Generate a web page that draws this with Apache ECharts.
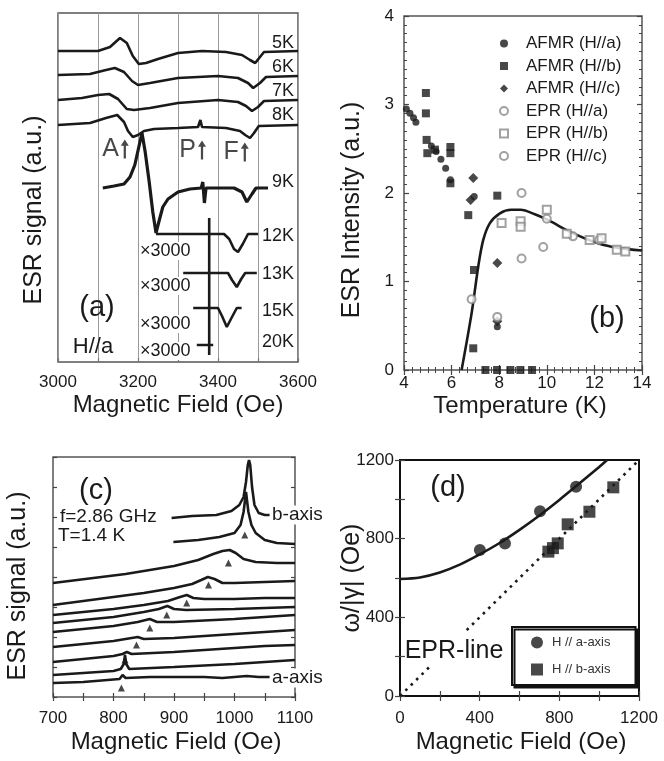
<!DOCTYPE html>
<html><head><meta charset="utf-8">
<script src="https://cdn.jsdelivr.net/npm/echarts@6/dist/echarts.min.js"></script>
<style>html,body{margin:0;padding:0;background:#fff}#c{width:664px;height:761px}</style>
</head><body><div id="c"></div>
<script>
const FONT = '"Liberation Sans", Arial, Helvetica, sans-serif';
const INK = '#1a1a1a';

// ---------- Panel (a): ESR traces, [field (Oe), signal (a.u., offset)] ----------
const a5K = [[3000,311],[3100,311],[3130,315],[3155,324],[3172,319],[3187,306],[3202,298],[3220,299],[3250,303],[3300,309],[3360,311],[3420,310],[3460,307],[3480,302],[3493,299],[3505,305],[3515,310],[3600,311]];
const a6K = [[3000,287],[3080,288],[3120,292],[3142,294],[3165,290],[3185,281],[3200,277],[3230,279],[3300,284],[3400,286],[3450,284],[3475,279],[3488,274],[3505,279],[3520,285],[3600,286]];
const a7K = [[3000,262],[3060,264],[3100,267],[3128,268],[3150,263],[3172,253],[3190,252],[3230,254],[3300,259],[3400,262],[3450,260],[3470,256],[3485,251],[3500,255],[3515,261],[3600,262]];
const a8K = [[3000,237],[3080,239],[3120,244],[3148,247],[3165,240],[3175,231],[3187,225],[3200,227],[3215,231],[3240,233],[3300,234],[3350,235],[3356,242],[3360,235],[3420,234],[3455,231],[3468,227],[3480,224],[3490,229],[3502,236],[3600,237]];
const a9K = [[3112,174],[3140,176],[3165,178],[3180,185],[3192,197],[3202,215],[3210,229],[3218,210],[3228,180],[3237,150],[3245,129],[3252,140],[3262,155],[3275,163],[3300,170],[3330,173],[3358,174],[3362,180],[3366,159],[3370,174],[3440,174],[3460,170],[3472,160],[3485,168],[3495,174],[3525,174]];
const a12K = [[3245,128],[3415,128],[3428,123],[3440,113],[3450,110],[3462,118],[3475,128],[3500,128]];
const a13K = [[3313,89],[3425,89],[3435,82],[3447,75],[3458,83],[3468,89],[3497,89]];
const a15K = [[3338,54],[3400,54],[3410,46],[3422,35],[3435,45],[3447,54],[3459,54]];
const a20K = [[3347,17],[3388,17]];
const aSharpP = [[3378,144],[3378,7]];
const aTempLabels = ['5K','6K','7K','8K','9K','12K','13K','15K','20K'];
const aTempLabelY = [43,67,91,115,182,236,274,311,342];
const aArrowPos = [[3167,213],[3360,212],[3467,210]];
const aArrowNames = ['A','P','F'];
const aGainLabel = '×3000';
const aGainY = [251,286,324,351];

// ---------- Panel (b): intensity vs temperature, [T (K), I (a.u.)] ----------
const bAfmrA = [[4.1,2.95],[4.25,2.9],[4.4,2.85],[4.5,2.8],[5.15,2.53],[5.35,2.47],[5.55,2.38],[5.75,2.28],[5.95,2.15],[6.95,1.96],[7.92,0.49]];
const bAfmrB = [[4.92,3.13],[4.92,2.9],[4.95,2.6],[4.98,2.45],[5.3,2.49],[5.95,2.52],[5.95,2.45],[5.95,2.11],[6.7,1.75],[6.94,1.13],[6.91,0.245],[7.92,1.97],[7.42,0],[7.91,0],[8.47,0],[8.89,0],[9.38,0]];
const bAfmrC = [[6.91,2.17],[6.8,1.92],[7.92,1.21],[7.92,0.55]];
const bEprA = [[8.94,2.0],[10.0,1.71],[11.1,1.51],[12.2,1.47],[6.84,0.8]];
const bEprB = [[8.1,1.66],[8.9,1.68],[8.9,1.62],[10.0,1.81],[10.84,1.54],[11.8,1.47],[12.3,1.49],[12.94,1.36],[13.3,1.34]];
const bEprC = [[7.92,0.6],[8.94,1.26],[9.85,1.39]];
const bFit = [[6.42,0],[6.84,0.64],[7.12,1.17],[7.33,1.47],[7.61,1.66],[8.03,1.77],[8.5,1.81],[8.9,1.81],[9.5,1.76],[10.08,1.69],[11.06,1.55],[12.18,1.43],[13,1.38],[14,1.35]];
const bNames = ['AFMR (H//a)','AFMR (H//b)','AFMR (H//c)','EPR (H//a)','EPR (H//b)','EPR (H//c)'];

// ---------- Panel (c): spectra at 1.4 K, [field (Oe), signal (a.u., offset)] ----------
const c1 = [[896,179],[930,181],[970,182],[995,186],[1008,192],[1015,200],[1019,215],[1022,232],[1024,237],[1026,232],[1029,210],[1033,192],[1040,184],[1050,182],[1058,182]];
const c2 = [[899,155],[940,157],[975,160],[1000,164],[1010,172],[1015,185],[1019,205],[1023,185],[1028,172],[1035,164],[1050,157],[1070,154],[1100,153]];
const c3 = [[700,114],[740,117],[780,120],[820,123],[860,127],[900,131],[940,137],[965,143],[980,146],[992,147],[1002,144],[1015,138],[1035,135],[1070,134],[1100,134]];
const c4 = [[700,92],[750,96],[800,100],[850,104],[900,109],[930,113],[945,117],[956,120],[967,118],[980,114],[1000,114],[1050,115],[1100,116]];
const c5 = [[700,82],[750,85],[800,88],[850,92],[890,96],[910,100],[921,102],[932,99],[950,98],[1000,98],[1050,99],[1100,99]];
const c6 = [[700,74],[750,77],[800,80],[850,85],[875,88],[889,91],[900,88],[920,87],[1000,88],[1050,89],[1100,90]];
const c7 = [[700,65],[750,68],[800,71],[840,75],[860,78],[872,75],[900,75],[1000,78],[1050,80],[1100,82]];
const c8 = [[700,50],[750,53],[800,56],[830,59],[840,60],[850,58],[900,59],[1000,63],[1050,65],[1100,67]];
const c9 = [[700,35],[750,38],[800,41],[815,43],[822,45],[830,43],[900,45],[1000,49],[1050,51],[1100,52]];
const c10 = [[700,22],[750,24],[800,26],[812,28],[817,33],[819,42],[821,33],[826,28],[900,30],[1000,33],[1050,35],[1100,37]];
const c11 = [[700,14],[750,15],[790,17],[810,18],[815,22],[820,19],[860,20],[900,20],[950,20],[980,19],[1000,20],[1020,21],[1040,20],[1058,20]];
const cMarkField = [1017,990,957,921,888,860,838,819,813];
const cMarkY = [162,134,112,94,82,69,52,37,9];

// ---------- Panel (d): resonance field, [H (Oe), omega/|gamma| (Oe)] ----------
const dFieldA = [401,527,703,884];
const dFreqA = [742,776,939,1064];
const dFieldB = [745,768,792,842,951,1071];
const dFreqB = [734,752,776,873,937,1061];
const dFit = [[0,595],[100,603],[200,628],[300,668],[400,720],[500,778],[600,845],[700,918],[800,997],[900,1080],[1000,1165],[1040,1200]];
const dEprLow = [[0,0],[150,150]];
const dEprHigh = [[335,335],[1200,1200]];
const dNames = ['H // a-axis','H // b-axis'];

// ---------- helpers ----------
const lbl = (size, extra) => Object.assign({fontSize: size, color: INK, fontFamily: FONT}, extra || {});
function txt(x, y, s, size, o) {
  o = o || {};
  return {type: 'text', x: x, y: y, rotation: o.rot || 0, z: 50,
    style: Object.assign({text: s, fontSize: size, fontFamily: FONT, fill: INK,
      align: o.align || 'center', verticalAlign: 'middle'}, o.style || {})};
}
const tickIn = (len, c) => ({show: true, inside: true, length: len, lineStyle: {color: c || '#444', width: 1.2}});
const noLine = {show: false};
const grids = [
  {left: 58, top: 13, width: 240, height: 349},
  {left: 404, top: 16, width: 238, height: 354},
  {left: 53, top: 457, width: 242, height: 240},
  {left: 400, top: 460, width: 239, height: 236}
].map((g, i) => Object.assign(g, {show: true, backgroundColor: 'transparent', borderColor: i === 3 ? '#111' : '#555', borderWidth: i === 3 ? 2 : 1.5, containLabel: false, outerBoundsMode: 'none'}));

const xAxes = [
  {gridIndex: 0, type: 'value', min: 3000, max: 3600, interval: 100, axisLine: noLine,
   axisTick: tickIn(4, '#777'), splitLine: {show: true, lineStyle: {color: '#9a9a9a', width: 1}},
   axisLabel: Object.assign(lbl(17), {margin: 12, formatter: v => (v % 200 === 0 ? String(v) : '')})},
  {gridIndex: 1, type: 'value', min: 4, max: 14, interval: 2, axisLine: noLine, splitLine: noLine,
   axisTick: tickIn(5), minorTick: {show: true, splitNumber: 6, length: 3, lineStyle: {color: '#444'}},
   axisLabel: Object.assign(lbl(17), {margin: 5})},
  {gridIndex: 1, type: 'value', position: 'top', min: 4, max: 14, interval: 2, axisLine: noLine, splitLine: noLine,
   axisTick: tickIn(5), minorTick: {show: true, splitNumber: 6, length: 3, lineStyle: {color: '#444'}}, axisLabel: noLine},
  {gridIndex: 2, type: 'value', min: 700, max: 1100, interval: 50, axisLine: noLine, splitLine: noLine,
   axisTick: tickIn(4),
   axisLabel: Object.assign(lbl(17), {margin: 13, formatter: v => (v % 100 === 0 ? String(v) : '')})},
  {gridIndex: 2, type: 'value', position: 'top', min: 700, max: 1100, interval: 50, axisLine: noLine, splitLine: noLine,
   axisTick: tickIn(4), axisLabel: noLine},
  {gridIndex: 3, type: 'value', min: 0, max: 1200, interval: 200, axisLine: noLine, splitLine: noLine,
   axisTick: tickIn(5),
   axisLabel: Object.assign(lbl(17), {margin: 14, formatter: v => (v % 400 === 0 ? String(v) : '')})},
  {gridIndex: 3, type: 'value', position: 'top', min: 0, max: 1200, interval: 200, axisLine: noLine, splitLine: noLine,
   axisTick: tickIn(5), axisLabel: noLine}
];
const yAxes = [
  {gridIndex: 0, type: 'value', min: 0, max: 349, axisLine: noLine, axisTick: noLine, axisLabel: noLine, splitLine: noLine},
  {gridIndex: 1, type: 'value', min: 0, max: 4, interval: 1, axisLine: noLine, splitLine: noLine,
   axisTick: tickIn(5), minorTick: {show: true, splitNumber: 10, length: 3, lineStyle: {color: '#444'}},
   axisLabel: Object.assign(lbl(17), {margin: 10})},
  {gridIndex: 1, type: 'value', position: 'right', min: 0, max: 4, interval: 1, axisLine: noLine, splitLine: noLine,
   axisTick: tickIn(5), minorTick: {show: true, splitNumber: 10, length: 3, lineStyle: {color: '#444'}}, axisLabel: noLine},
  {gridIndex: 2, type: 'value', min: 0, max: 240, interval: 30, axisLine: noLine, splitLine: noLine,
   axisTick: tickIn(4), axisLabel: noLine},
  {gridIndex: 2, type: 'value', position: 'right', min: 0, max: 240, interval: 30, axisLine: noLine, splitLine: noLine,
   axisTick: tickIn(4), axisLabel: noLine},
  {gridIndex: 3, type: 'value', min: 0, max: 1200, interval: 200, axisLine: noLine, splitLine: noLine,
   axisTick: tickIn(5),
   axisLabel: Object.assign(lbl(17), {margin: 6, formatter: v => (v % 400 === 0 ? String(v) : '')})},
  {gridIndex: 3, type: 'value', position: 'right', min: 0, max: 1200, interval: 200, axisLine: noLine, splitLine: noLine,
   axisTick: tickIn(5), axisLabel: noLine}
];

const traceLine = (data, xi, yi, w) => ({type: 'line', xAxisIndex: xi, yAxisIndex: yi, data: data, symbol: 'none',
  lineStyle: {color: INK, width: w || 2.6}, silent: true, z: 3, animation: false});

const series = [];
[a5K, a6K, a7K, a8K, a12K, a13K, a15K, a20K].forEach(d => series.push(traceLine(d, 0, 0, 2.6)));
series.push(traceLine(a9K, 0, 0, 3.2));
series.push(traceLine(aSharpP, 0, 0, 2.6));
series.push({type: 'scatter', xAxisIndex: 0, yAxisIndex: 0, data: aArrowPos, z: 5,
  symbol: 'path://M5,0 L10,10 L6.4,10 L6.4,30 L3.6,30 L3.6,10 L0,10 Z', symbolSize: [8, 19],
  itemStyle: {color: INK},
  label: {show: true, position: 'left', distance: 2, fontSize: 25, color: INK, fontFamily: FONT,
    formatter: p => aArrowNames[p.dataIndex]}});

// (b)
series.push(Object.assign(traceLine(bFit, 1, 1, 2.6), {smooth: 0.3}));
const bSets = [bAfmrA, bAfmrB, bAfmrC, bEprA, bEprB, bEprC];
const bSym = ['circle', 'rect', 'diamond', 'emptyCircle', 'emptyRect', 'emptyCircle'];
const bSize = [7, 8, 10, 8, 8, 8];
bSets.forEach((d, i) => series.push({type: 'scatter', name: bNames[i], xAxisIndex: 1, yAxisIndex: 1, data: d,
  symbol: bSym[i], symbolSize: bSize[i], z: 4,
  itemStyle: i < 3 ? {color: INK} : {color: '#8a8a8a', borderColor: '#8a8a8a', borderWidth: i === 5 ? 2.2 : 1.4}}));

// (c)
[c1, c2, c3, c4, c5, c6, c7, c8, c9, c10, c11].forEach(d => series.push(traceLine(d, 3, 3, 2.6)));
series.push({type: 'scatter', xAxisIndex: 3, yAxisIndex: 3, data: cMarkField.map((f, i) => [f, cMarkY[i]]),
  symbol: 'triangle', symbolSize: 7, itemStyle: {color: INK}, z: 5});

// (d)
series.push(Object.assign(traceLine(dFit, 5, 5, 2.6), {smooth: 0.3}));
[dEprLow, dEprHigh].forEach(d => series.push({type: 'line', xAxisIndex: 5, yAxisIndex: 5, data: d, symbol: 'none',
  lineStyle: {color: INK, width: 2.6, type: [2.6, 5]}, z: 3, silent: true}));
series.push({type: 'scatter', name: dNames[0], xAxisIndex: 5, yAxisIndex: 5,
  data: dFieldA.map((h, i) => [h, dFreqA[i]]), symbol: 'circle', symbolSize: 12, itemStyle: {color: INK}, z: 5});
series.push({type: 'scatter', name: dNames[1], xAxisIndex: 5, yAxisIndex: 5,
  data: dFieldB.map((h, i) => [h, dFreqB[i]]), symbol: 'rect', symbolSize: 12, itemStyle: {color: INK}, z: 5});

const graphic = [
  // axis titles
  txt(178, 405, 'Magnetic Field (Oe)', 24),
  txt(520, 406, 'Temperature (K)', 24),
  txt(176, 742, 'Magnetic Field (Oe)', 24),
  txt(521, 742, 'Magnetic Field (Oe)', 24),
  txt(34, 210, 'ESR signal (a.u.)', 25, {rot: Math.PI / 2}),
  txt(352, 210, 'ESR Intensity (a.u.)', 25, {rot: Math.PI / 2}),
  txt(18, 586, 'ESR signal (a.u.)', 25, {rot: Math.PI / 2}),
  txt(352, 578, 'ω/|γ| (Oe)', 25, {rot: Math.PI / 2}),
  // panel tags
  txt(97, 308, '(a)', 29), txt(93, 347, 'H//a', 22),
  txt(607, 319, '(b)', 29),
  txt(96, 491, '(c)', 29),
  txt(448, 488, '(d)', 29),
  // panel (c) notes
  txt(60, 517, 'f=2.86 GHz', 19, {align: 'left'}),
  txt(58, 536, 'T=1.4 K', 19, {align: 'left'}),
  txt(270, 515, 'b-axis', 19, {align: 'left', style: {backgroundColor: '#fff', padding: [0, 2, 0, 2]}}),
  txt(270, 678, 'a-axis', 19, {align: 'left', style: {backgroundColor: '#fff', padding: [0, 2, 0, 2]}}),
  // panel (d)
  txt(454, 651, 'EPR-line', 25)
];
aTempLabels.forEach((s, i) => graphic.push(txt(294, aTempLabelY[i], s, 18, {align: 'right'})));
aGainY.forEach(y => graphic.push(txt(140, y, aGainLabel, 18, {align: 'left', style: {backgroundColor: '#fff'}})));

const chart = echarts.init(document.getElementById('c'), null, {renderer: 'canvas'});
chart.setOption({
  animation: false,
  backgroundColor: '#fff',
  textStyle: {fontFamily: FONT},
  grid: grids,
  xAxis: xAxes,
  yAxis: yAxes,
  legend: [
    {data: bNames, orient: 'vertical', left: 499, top: 35, padding: 0, itemWidth: 8, itemHeight: 8, itemGap: 5.5,
     selectedMode: false, textStyle: {fontSize: 17, color: INK, fontFamily: FONT, lineHeight: 15, padding: [0, 0, 0, 13]}},
    {data: dNames, orient: 'vertical', left: 512, top: 627, padding: [9, 25, 9, 19], itemWidth: 12, itemHeight: 12, itemGap: 14,
     selectedMode: false, backgroundColor: '#fff', borderColor: '#111', borderWidth: 2,
     shadowColor: '#111', shadowOffsetX: 2.5, shadowOffsetY: 2.5, shadowBlur: 0,
     textStyle: {fontSize: 13, color: '#333', fontFamily: FONT, lineHeight: 12, padding: [0, 0, 0, 4]}}
  ],
  graphic: graphic,
  series: series
});
</script>
</body></html>
